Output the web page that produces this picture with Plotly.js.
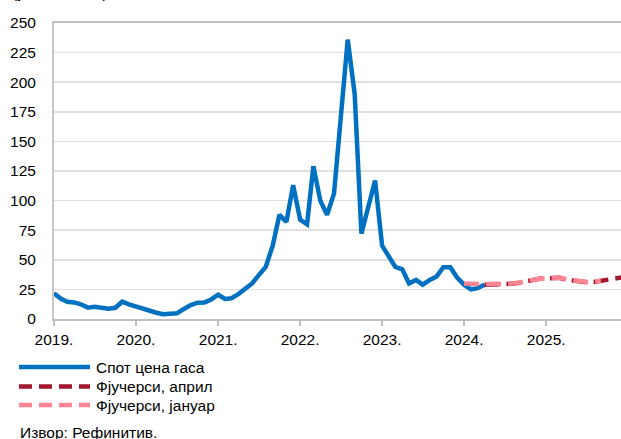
<!DOCTYPE html>
<html>
<head>
<meta charset="utf-8">
<script src="https://cdn.plot.ly/plotly-3.0.1.min.js"></script>
<style>html,body{margin:0;padding:0;background:#fff;}#chart{width:621px;height:439px;}</style>
</head>
<body>
<div id="chart"></div>
<script>
// ---- data ----
const seriesNames = ["Спот цена гаса", "Фјучерси, април", "Фјучерси, јануар"];
const spotStart = "2019-01-01";
const spotValues = [
  21.7, 17, 14.6, 14, 12.4, 9.6, 10.4, 9.5, 8.7, 9.5, 14.6, 12.4,
  10.4, 8.4, 7, 5.3, 4, 4.8, 4.8, 8.4, 11.8, 13.8, 14, 16.5,
  20.5, 17, 17.5, 21, 26, 30, 37, 44, 62, 88, 82, 113,
  84, 80, 129, 100, 88, 106, 170, 236, 190, 72, 95, 117,
  62, 53, 44, 42, 30, 33, 29, 33, 36, 43.7, 43.7, 35,
  29, 25, 26, 29
];
const aprilStart = "2024-04-01";
const aprilValues = [29, 29, 29.2, 29.3, 29.8, 30.5, 31.2, 32.8, 34, 34.5, 34.8, 34.8,
  33.2, 32.2, 31.3, 31, 31.3, 32, 33, 34, 35];
const januaryStart = "2024-01-01";
const januaryValues = [30, 29.5, 29.5, 29.5, 29.5, 29.5, 29.6, 30, 30.8, 31.5, 33, 34,
  34.5, 35, 35, 33.5, 32.5, 31.5, 31.3, 31.5, 32.3];
const yTicks = [0, 25, 50, 75, 100, 125, 150, 175, 200, 225, 250];
const unitText = "(у EUR/MWh)";
const sourceText = "Извор: Рефинитив.";

// ---- helpers ----
function monthly(start, n) {
  const [y, m] = start.split("-").map(Number);
  const out = [];
  for (let i = 0; i < n; i++) {
    const t = (m - 1) + i;
    const yy = y + Math.floor(t / 12);
    const mm = (t % 12) + 1;
    out.push(yy + "-" + String(mm).padStart(2, "0") + "-01");
  }
  return out;
}

const W = 621, H = 439;
const M = {l: 54, r: 0, t: 23, b: 120};
const pw = W - M.l - M.r, ph = H - M.t - M.b;
const px2x = px => (px - M.l) / pw;
const py2y = py => (H - M.b - py) / ph;

const colors = ["#0070C0", "#A3172F", "#FF8593"];
const font = "Liberation Sans, Arial, sans-serif";
const FS = 15.5;

const traces = [
  {x: monthly(spotStart, spotValues.length), y: spotValues, name: seriesNames[0],
   type: "scatter", mode: "lines", line: {color: colors[0], width: 4.5}},
  {x: monthly(aprilStart, aprilValues.length), y: aprilValues, name: seriesNames[1],
   type: "scatter", mode: "lines", line: {color: colors[1], width: 4.5, dash: "15px,7px"}},
  {x: monthly(januaryStart, januaryValues.length), y: januaryValues, name: seriesNames[2],
   type: "scatter", mode: "lines", line: {color: colors[2], width: 4.5, dash: "15px,7px"}}
];

// manual legend
const legendRows = [367, 386.5, 405];
const shapes = [];
const annotations = [];
legendRows.forEach((py, i) => {
  shapes.push({type: "line", xref: "paper", yref: "paper",
    x0: px2x(19), x1: px2x(90), y0: py2y(py), y1: py2y(py),
    line: {color: colors[i], width: 4.5, dash: i === 0 ? "solid" : "13px,7px"}});
  annotations.push({xref: "paper", yref: "paper", x: px2x(94), y: py2y(py),
    xanchor: "left", yanchor: "middle", showarrow: false, text: seriesNames[i],
    font: {family: font, size: FS, color: "#000"}});
});
annotations.push({xref: "paper", yref: "paper", x: px2x(18), y: py2y(432),
  xanchor: "left", yanchor: "middle", showarrow: false, text: sourceText,
  font: {family: font, size: FS, color: "#000"}});
annotations.push({xref: "paper", yref: "paper", x: px2x(10), y: 1, yshift: 20,
  xanchor: "left", yanchor: "bottom", showarrow: false, text: unitText,
  font: {family: font, size: FS, color: "#000"}});

const layout = {
  width: W, height: H,
  margin: M,
  paper_bgcolor: "#fff", plot_bgcolor: "#fff",
  showlegend: false,
  font: {family: font, size: FS, color: "#000"},
  xaxis: {
    type: "date",
    range: ["2019-01-01", "2025-11-30"],
    tick0: "2019-01-01", dtick: "M12", tickformat: "%Y.",
    showgrid: false, zeroline: false,
    showline: true, linecolor: "#c0c0c0", linewidth: 2, mirror: true,
    ticks: "outside", ticklen: 5, tickwidth: 1.5, tickcolor: "#c0c0c0",
    tickfont: {family: font, size: FS, color: "#000"}
  },
  yaxis: {
    range: [0, 250],
    tickvals: yTicks, ticktext: yTicks.map(String),
    showgrid: true, gridcolor: "#e0e0e0", gridwidth: 1.5,
    zeroline: false,
    showline: true, linecolor: "#c8c8c8", linewidth: 2,
    ticks: "", ticklabelstandoff: 13,
    tickfont: {family: font, size: FS, color: "#000"}
  },
  shapes: shapes,
  annotations: annotations
};

Plotly.newPlot("chart", traces, layout, {displayModeBar: false, staticPlot: true});
</script>
</body>
</html>
